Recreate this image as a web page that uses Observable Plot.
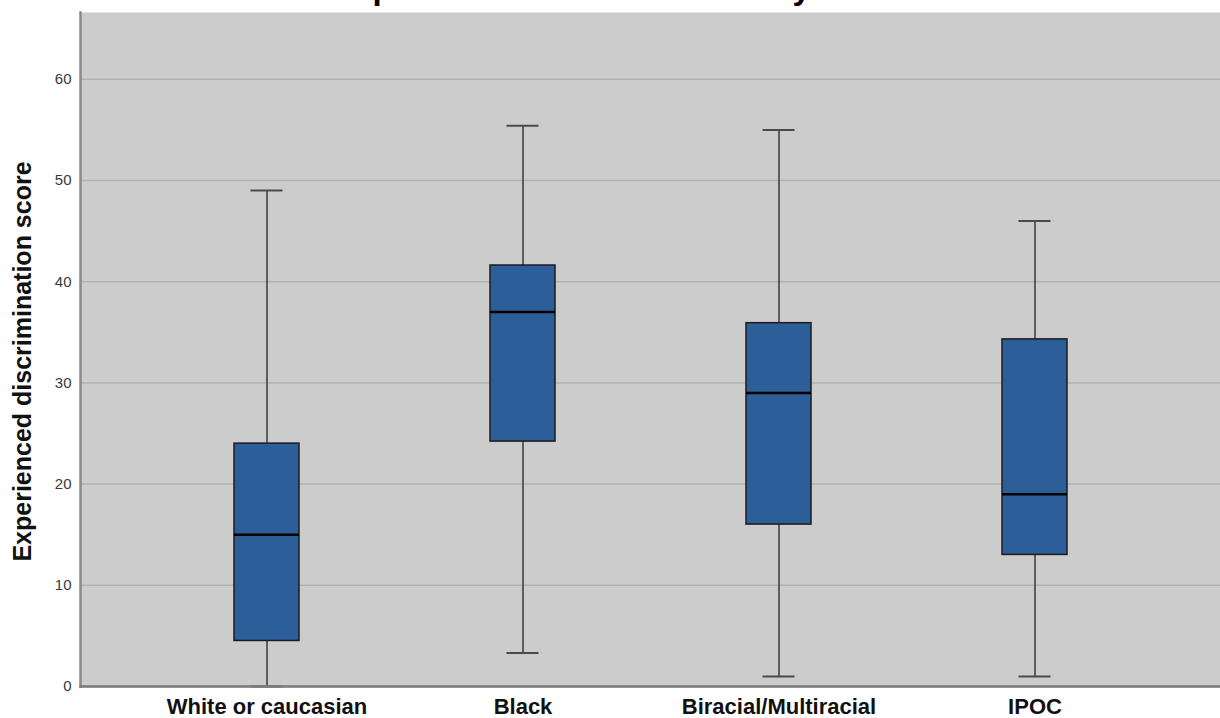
<!DOCTYPE html>
<html>
<head>
<meta charset="utf-8">
<script src="https://cdn.jsdelivr.net/npm/d3@7"></script>
<script src="https://cdn.jsdelivr.net/npm/@observablehq/plot@0.6"></script>
<style>
  html, body { margin: 0; padding: 0; background: white; overflow: hidden; }
  #wrap { position: relative; width: 1220px; height: 718px; }
  #title { position: absolute; top: -29px; left: 0; width: 1220px; text-align: center;
    font: bold 33px "Liberation Sans", Arial, sans-serif; line-height: 33px; color: #000; z-index: 2; white-space: nowrap; }
  #chart svg { display: block; }
</style>
</head>
<body>
<div id="wrap">
  <div id="chart"></div>
  <div id="title">Experienced discrimination by race</div>
</div>
<script>
const categories = ["White or caucasian", "Black", "Biracial/Multiracial", "IPOC"];
const minValues = [0, 3.3, 1, 1];
const q1Values = [4.5, 24.2, 16, 13];
const medianValues = [15, 37, 29, 19];
const q3Values = [24, 41.6, 35.9, 34.3];
const maxValues = [49, 55.4, 55, 46];
const yTicks = [0, 10, 20, 30, 40, 50, 60];
const yLabel = "Experienced discrimination score";

const data = categories.map((c, i) => ({
  cat: c, min: minValues[i], q1: q1Values[i], med: medianValues[i], q3: q3Values[i], max: maxValues[i]
}));

const chart = Plot.plot({
  width: 1220,
  height: 718,
  marginLeft: 80,
  marginRight: 0,
  marginTop: 12,
  marginBottom: 32,
  style: { background: "white", fontFamily: "'Liberation Sans', Arial, sans-serif" },
  x: { domain: categories, paddingInner: 0.747, paddingOuter: 0.595, label: null },
  y: { domain: [0, 66.6], label: null },
  marks: [
    Plot.frame({ fill: "#cccccc", stroke: null }),
    Plot.gridY(yTicks, { stroke: "#b2b2b2", strokeOpacity: 1, strokeWidth: 1.5 }),
    Plot.ruleX(data, { x: "cat", y1: "min", y2: "max", stroke: "#3a3a3a", strokeWidth: 1.5 }),
    Plot.barY(data, { x: "cat", y1: "q1", y2: "q3", fill: "#2c5e9a", stroke: "#1c1c1c", strokeWidth: 1.5 }),
    Plot.tickY(data, { x: "cat", y: "med", stroke: "#000", strokeWidth: 2.5 }),
    Plot.tickY(data, { x: "cat", y: "min", insetLeft: 16.5, insetRight: 16.5, stroke: "#4a4a4a", strokeWidth: 2 }),
    Plot.tickY(data, { x: "cat", y: "max", insetLeft: 16.5, insetRight: 16.5, stroke: "#4a4a4a", strokeWidth: 2 }),
    Plot.frame({ anchor: "left", stroke: "#8a8a8a", strokeWidth: 2.5 }),
    Plot.frame({ anchor: "bottom", stroke: "#7a7a7a", strokeWidth: 2.5 }),
    Plot.axisY({ ticks: yTicks, tickSize: 0, tickPadding: 9, fontSize: 15, fill: "#3a3a3a", label: null }),
    Plot.axisX({ tickSize: 0, tickPadding: 12, fontSize: 22, fontWeight: "bold", fill: "#111", label: null }),
    Plot.text([yLabel], { frameAnchor: "left", textAnchor: "middle", rotate: -90, dx: -58, dy: 12, fontSize: 25, fontWeight: "bold", fill: "#111" })
  ]
});
document.getElementById("chart").appendChild(chart);
</script>
</body>
</html>
